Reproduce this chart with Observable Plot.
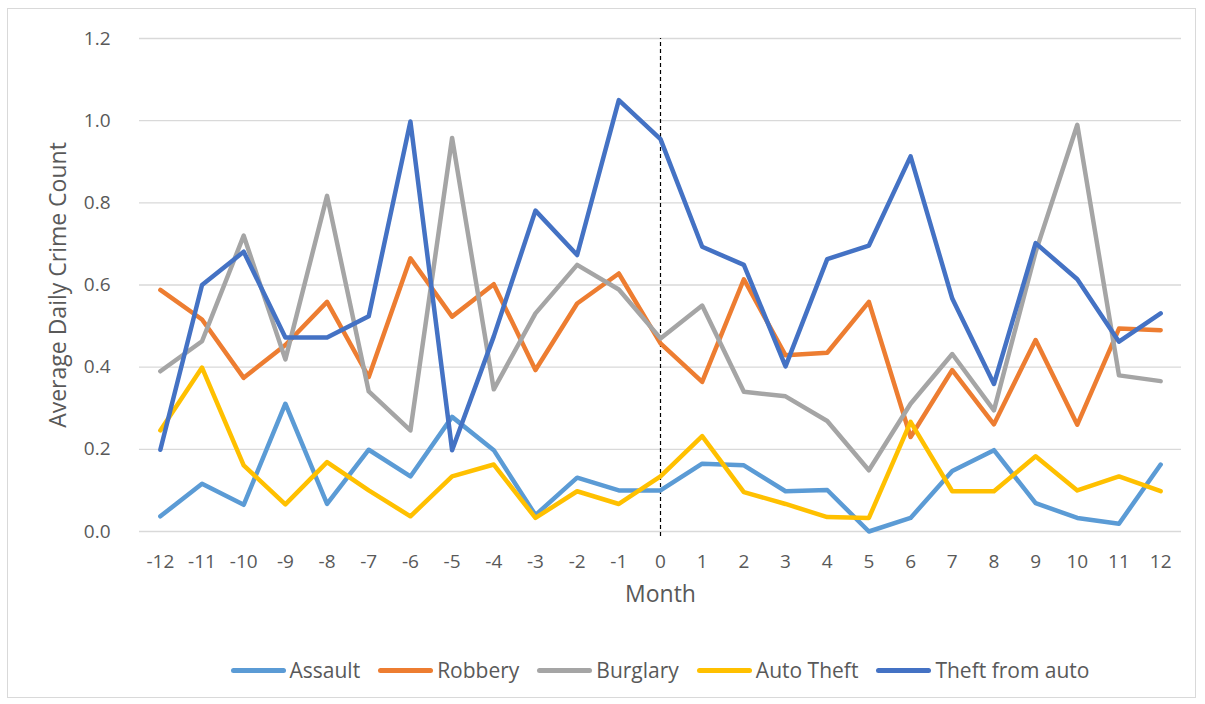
<!DOCTYPE html>
<html>
<head>
<meta charset="utf-8">
<script src="https://cdn.jsdelivr.net/npm/d3@7"></script>
<script src="https://cdn.jsdelivr.net/npm/@observablehq/plot@0.6"></script>
<style>
  html, body { margin: 0; padding: 0; background: #fff; }
  body { width: 1205px; height: 704px; position: relative; overflow: hidden; font-family: "Open Sans", sans-serif; }
  #frame { position: absolute; left: 7px; top: 8px; width: 1189px; height: 690px; border: 1px solid #d9d9d9; box-sizing: border-box; }
  #chart { position: absolute; left: 0; top: 0; }
  #legend { position: absolute; left: 139px; top: 656px; width: 1042px; display: flex; justify-content: center; align-items: center; font-size: 21px; color: #595959; }
  .item { display: flex; align-items: center; margin: 0 9px; }
  .swatch { width: 55px; height: 5px; border-radius: 3px; margin-right: 4px; }
</style>
</head>
<body>
<div id="frame"></div>
<div id="chart"></div>
<div id="legend"></div>
<script>
// Months relative to the intervention (0)
const months = [-12, -11, -10, -9, -8, -7, -6, -5, -4, -3, -2, -1, 0, 1, 2, 3, 4, 5, 6, 7, 8, 9, 10, 11, 12];

// Average daily crime count per month, by crime type
const assault       = [0.037, 0.116, 0.065, 0.311, 0.067, 0.199, 0.134, 0.279, 0.198, 0.040, 0.131, 0.100, 0.100, 0.165, 0.161, 0.098, 0.101, 0.000, 0.033, 0.147, 0.198, 0.069, 0.033, 0.019, 0.163];
const robbery       = [0.588, 0.516, 0.374, 0.454, 0.559, 0.376, 0.665, 0.523, 0.602, 0.393, 0.555, 0.628, 0.458, 0.364, 0.614, 0.429, 0.435, 0.559, 0.230, 0.393, 0.261, 0.466, 0.260, 0.494, 0.490];
const burglary      = [0.390, 0.463, 0.720, 0.419, 0.817, 0.341, 0.246, 0.958, 0.346, 0.531, 0.649, 0.589, 0.470, 0.550, 0.340, 0.329, 0.269, 0.149, 0.311, 0.432, 0.295, 0.680, 0.990, 0.380, 0.366];
const autoTheft     = [0.246, 0.399, 0.161, 0.066, 0.169, 0.100, 0.037, 0.134, 0.163, 0.033, 0.098, 0.067, 0.134, 0.232, 0.096, 0.067, 0.035, 0.033, 0.267, 0.098, 0.098, 0.183, 0.100, 0.134, 0.098];
const theftFromAuto = [0.199, 0.600, 0.681, 0.472, 0.472, 0.524, 0.998, 0.198, 0.475, 0.781, 0.673, 1.050, 0.955, 0.693, 0.649, 0.402, 0.663, 0.696, 0.913, 0.567, 0.359, 0.702, 0.614, 0.462, 0.531];

const seriesNames = ["Assault", "Robbery", "Burglary", "Auto Theft", "Theft from auto"];
const seriesValues = [assault, robbery, burglary, autoTheft, theftFromAuto];
const seriesColors = ["#5B9BD5", "#ED7D31", "#A5A5A5", "#FFC000", "#4472C4"];
const yTicks = [0, 0.2, 0.4, 0.6, 0.8, 1.0, 1.2];

// Long-format table for the line marks
const rows = seriesNames.flatMap((name, i) =>
  months.map((m, j) => ({ series: name, month: m, value: seriesValues[i][j] }))
);

const textColor = "#595959";

const chart = Plot.plot({
  width: 1205,
  height: 640,
  marginLeft: 139,
  marginRight: 24,
  marginTop: 38,
  marginBottom: 109,
  style: { fontFamily: "Open Sans, sans-serif", color: textColor, background: "transparent" },
  x: { domain: [-12.5, 12.5], ticks: months, tickFormat: d => String(d) },
  y: { domain: [0, 1.2], ticks: yTicks, tickFormat: d3.format(".1f") },
  color: { domain: seriesNames, range: seriesColors },
  marks: [
    Plot.gridY(yTicks, { stroke: "#d9d9d9", strokeOpacity: 1, strokeWidth: 1.3 }),
    Plot.axisX({
      ticks: months, tickFormat: d => String(d), tickSize: 0, tickPadding: 23, fontSize: 19,
      label: "Month", labelAnchor: "center", labelArrow: "none", labelOffset: 70
    }),
    Plot.axisY({
      ticks: yTicks, tickSize: 0, tickPadding: 29, fontSize: 19,
      label: "Average Daily Crime Count", labelAnchor: "center", labelArrow: "none", labelOffset: 90
    }),
    Plot.ruleX([0], { y1: -0.012, y2: 1.2, stroke: "#000", strokeWidth: 1.2, strokeDasharray: "4,3" }),
    Plot.line(rows, {
      x: "month", y: "value", z: "series", stroke: "series",
      strokeWidth: 4.5, strokeLinecap: "round", strokeLinejoin: "round"
    })
  ]
});

// Enlarge the axis titles
chart.querySelectorAll("[aria-label='x-axis label'] text, [aria-label='y-axis label'] text").forEach(t => {
  t.setAttribute("font-size", "23");
  t.style.fill = textColor;
});
chart.querySelectorAll("[aria-label='x-axis tick label'], [aria-label='y-axis tick label']").forEach(g => g.setAttribute("fill", textColor));

document.getElementById("chart").append(chart);

// Legend beneath the chart
const legend = document.getElementById("legend");
seriesNames.forEach((name, i) => {
  const item = document.createElement("div");
  item.className = "item";
  const sw = document.createElement("div");
  sw.className = "swatch";
  sw.style.background = seriesColors[i];
  const label = document.createElement("span");
  label.textContent = name;
  item.append(sw, label);
  legend.append(item);
});
</script>
</body>
</html>
